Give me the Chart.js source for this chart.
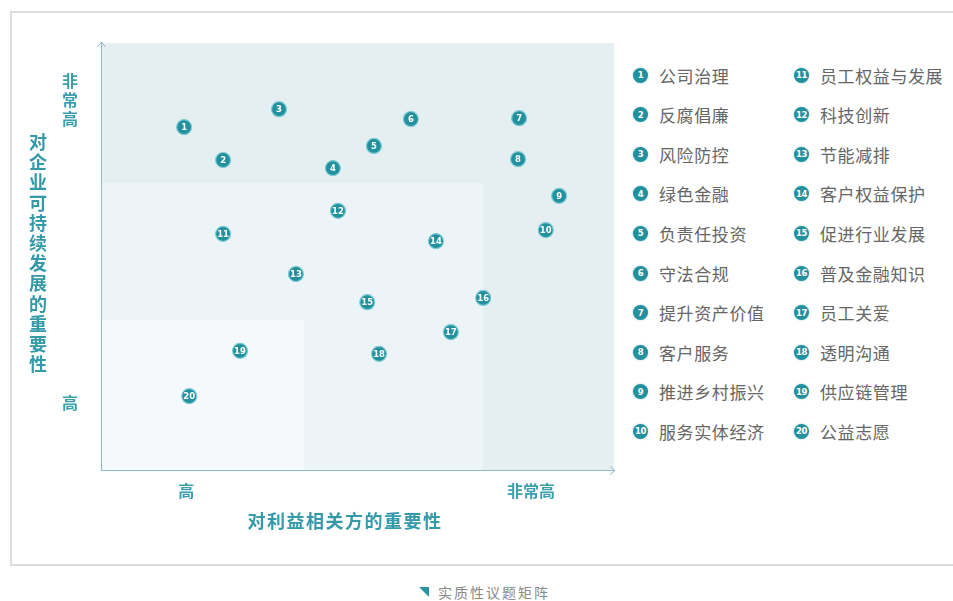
<!DOCTYPE html>
<html>
<head>
<meta charset="utf-8">
<script src="https://cdn.jsdelivr.net/npm/chart.js@4"></script>
<style>
  html,body{margin:0;padding:0;background:#fff;width:953px;height:601px;overflow:hidden;font-family:"Noto Sans CJK SC","Noto Sans",sans-serif;}
  #frame{position:absolute;left:10px;top:11px;width:960px;height:555px;border:2px solid #dedede;box-sizing:border-box;}
  #chart{position:absolute;left:0;top:0;}
  #ytitle{position:absolute;left:28px;top:131px;width:20px;font-size:18px;font-weight:bold;color:#3499a8;line-height:20.2px;text-align:center;}
  #xtitle{position:absolute;left:200px;width:290px;top:507px;text-align:center;font-size:18px;font-weight:bold;color:#3499a8;letter-spacing:1.5px;}
  .leg{position:absolute;height:20px;display:flex;align-items:center;font-size:17px;color:#666;letter-spacing:0.6px;white-space:nowrap;}
  .leg .dot{width:15px;height:15px;border-radius:50%;background:#23909d;color:#fff;font-size:8.5px;font-weight:bold;display:flex;align-items:center;justify-content:center;margin-right:11px;letter-spacing:-0.5px;font-family:"DejaVu Sans",sans-serif;box-shadow:0 0 2px rgba(60,170,185,0.6);}
  #caption{position:absolute;left:419px;top:582px;font-size:14px;color:#8a8a8a;letter-spacing:2px;display:flex;align-items:center;}
  #caption .tri{width:0;height:0;border-top:10px solid #2a95a4;border-left:10px solid transparent;margin-right:9px;}
</style>
</head>
<body>
<div id="frame"></div>
<canvas id="chart" width="625" height="560"></canvas>
<div id="ytitle"></div>
<div id="xtitle"></div>
<div id="legend"></div>
<div id="caption"><span class="tri"></span>实质性议题矩阵</div>
<script>
// ---- data ----
const topics = ['公司治理','反腐倡廉','风险防控','绿色金融','负责任投资','守法合规','提升资产价值','客户服务','推进乡村振兴','服务实体经济',
                '员工权益与发展','科技创新','节能减排','客户权益保护','促进行业发展','普及金融知识','员工关爱','透明沟通','供应链管理','公益志愿'];
const stakeholderImportance = [16.2,23.8,34.7,45.2,53.2,60.4,81.5,81.3,89.3,86.7,23.8,46.2,38.0,65.3,51.9,74.5,68.2,54.2,27.1,17.2];
const companyImportance     = [80.3,72.6,84.5,70.7,75.9,82.2,82.4,72.8,64.2,56.2,55.3,60.7,45.9,53.6,39.3,40.3,32.3,27.2,27.9,17.3];
const xTickValues = [16.6, 83.8];
const xTickLabels = ['高','非常高'];
const yTickValues = [15.7, 86.7];
const yTickLabels = ['高','非常高'];
const zoneRight = [100, 74.5, 39.6];
const zoneTop   = [100, 67.2, 35.1];
const xAxisTitle = '对利益相关方的重要性';
const yAxisTitle = '对企业可持续发展的重要性';

// ---- html text ----
document.getElementById('xtitle').textContent = xAxisTitle;
document.getElementById('ytitle').innerHTML = yAxisTitle.split('').join('<br>');
const legend = document.getElementById('legend');
topics.forEach((t,i)=>{
  const col = i < 10 ? 0 : 1, row = i % 10;
  const d = document.createElement('div');
  d.className = 'leg';
  d.style.left = (col === 0 ? 633 : 794) + 'px';
  d.style.top = (65 + row * 39.6) + 'px';
  d.innerHTML = '<span class="dot">' + (i+1) + '</span>' + t;
  legend.appendChild(d);
});

const zoneColors = ['#e5eff2','#edf4f7','#f5f9fb'];
const zonesPlugin = {
  id:'zones',
  beforeDatasetsDraw(chart){
    const {ctx, scales:{x,y}} = chart;
    ctx.save();
    zoneRight.forEach((r,i)=>{
      const x0 = x.getPixelForValue(0), x1 = x.getPixelForValue(r);
      const y0 = y.getPixelForValue(zoneTop[i]), y1 = y.getPixelForValue(0);
      ctx.fillStyle = zoneColors[i];
      ctx.fillRect(x0, y0, x1-x0, y1-y0);
    });
    // axes with arrows
    const ox = x.getPixelForValue(0), oy = y.getPixelForValue(0);
    const tx = x.getPixelForValue(100) + 1, ty = y.getPixelForValue(100) - 1;
    ctx.strokeStyle = '#8fbcc5';
    ctx.lineWidth = 1;
    ctx.beginPath();
    ctx.moveTo(ox+0.5, oy); ctx.lineTo(ox+0.5, ty);
    ctx.moveTo(ox, oy+0.5); ctx.lineTo(tx, oy+0.5);
    ctx.moveTo(ox-3.5, ty+5); ctx.lineTo(ox+0.5, ty); ctx.lineTo(ox+4.5, ty+5);
    ctx.moveTo(tx-5, oy-3.5); ctx.lineTo(tx, oy+0.5); ctx.lineTo(tx-5, oy+4.5);
    ctx.stroke();
    ctx.restore();
  },
  afterDatasetsDraw(chart){
    const {ctx} = chart;
    const meta = chart.getDatasetMeta(0);
    ctx.save();
    ctx.fillStyle = '#ffffff';
    ctx.font = 'bold 8.5px "DejaVu Sans", sans-serif';
    ctx.textAlign = 'center';
    ctx.textBaseline = 'middle';
    meta.data.forEach((pt,i)=>{
      ctx.fillText(String(i+1), pt.x, pt.y + 0.5);
    });
    ctx.restore();
  }
};

new Chart(document.getElementById('chart'), {
  type:'scatter',
  data:{
    datasets:[{
      data: stakeholderImportance.map((v,i)=>({x:v, y:companyImportance[i]})),
      backgroundColor:'#23909d',
      borderColor:'#7ccbd4',
      borderWidth:1.2,
      pointRadius:7.5,
      pointHoverRadius:7.5
    }]
  },
  options:{
    responsive:false,
    animation:false,
    events:[],
    layout:{padding:{left:0, top:43, right:11, bottom:0}},
    plugins:{legend:{display:false}, tooltip:{enabled:false}},
    scales:{
      x:{
        type:'linear', min:0, max:100,
        grid:{display:false, drawTicks:false},
        border:{display:false},
        afterBuildTicks(s){ s.ticks = xTickValues.map(v=>({value:v})); },
        afterFit(s){ s.height = 90; s.paddingLeft = 0; s.paddingRight = 0; },
        ticks:{
          autoSkip:false, maxRotation:0, padding:11,
          color:'#3c9fad',
          font:{size:16, family:'"Noto Sans CJK SC"', weight:'bold'},
          callback(v, i){ return xTickLabels[i]; }
        }
      },
      y:{
        type:'linear', min:0, max:100,
        grid:{display:false, drawTicks:false},
        border:{display:false},
        afterBuildTicks(s){ s.ticks = yTickValues.map(v=>({value:v})); },
        afterFit(s){ s.width = 101; s.paddingTop = 0; s.paddingBottom = 0; },
        ticks:{
          autoSkip:false, padding:23,
          color:'#3c9fad',
          font:{size:16, family:'"Noto Sans CJK SC"', weight:'bold', lineHeight:1.2},
          callback(v, i){ return yTickLabels[i].split(''); }
        }
      }
    }
  },
  plugins:[zonesPlugin]
});
</script>
</body>
</html>
